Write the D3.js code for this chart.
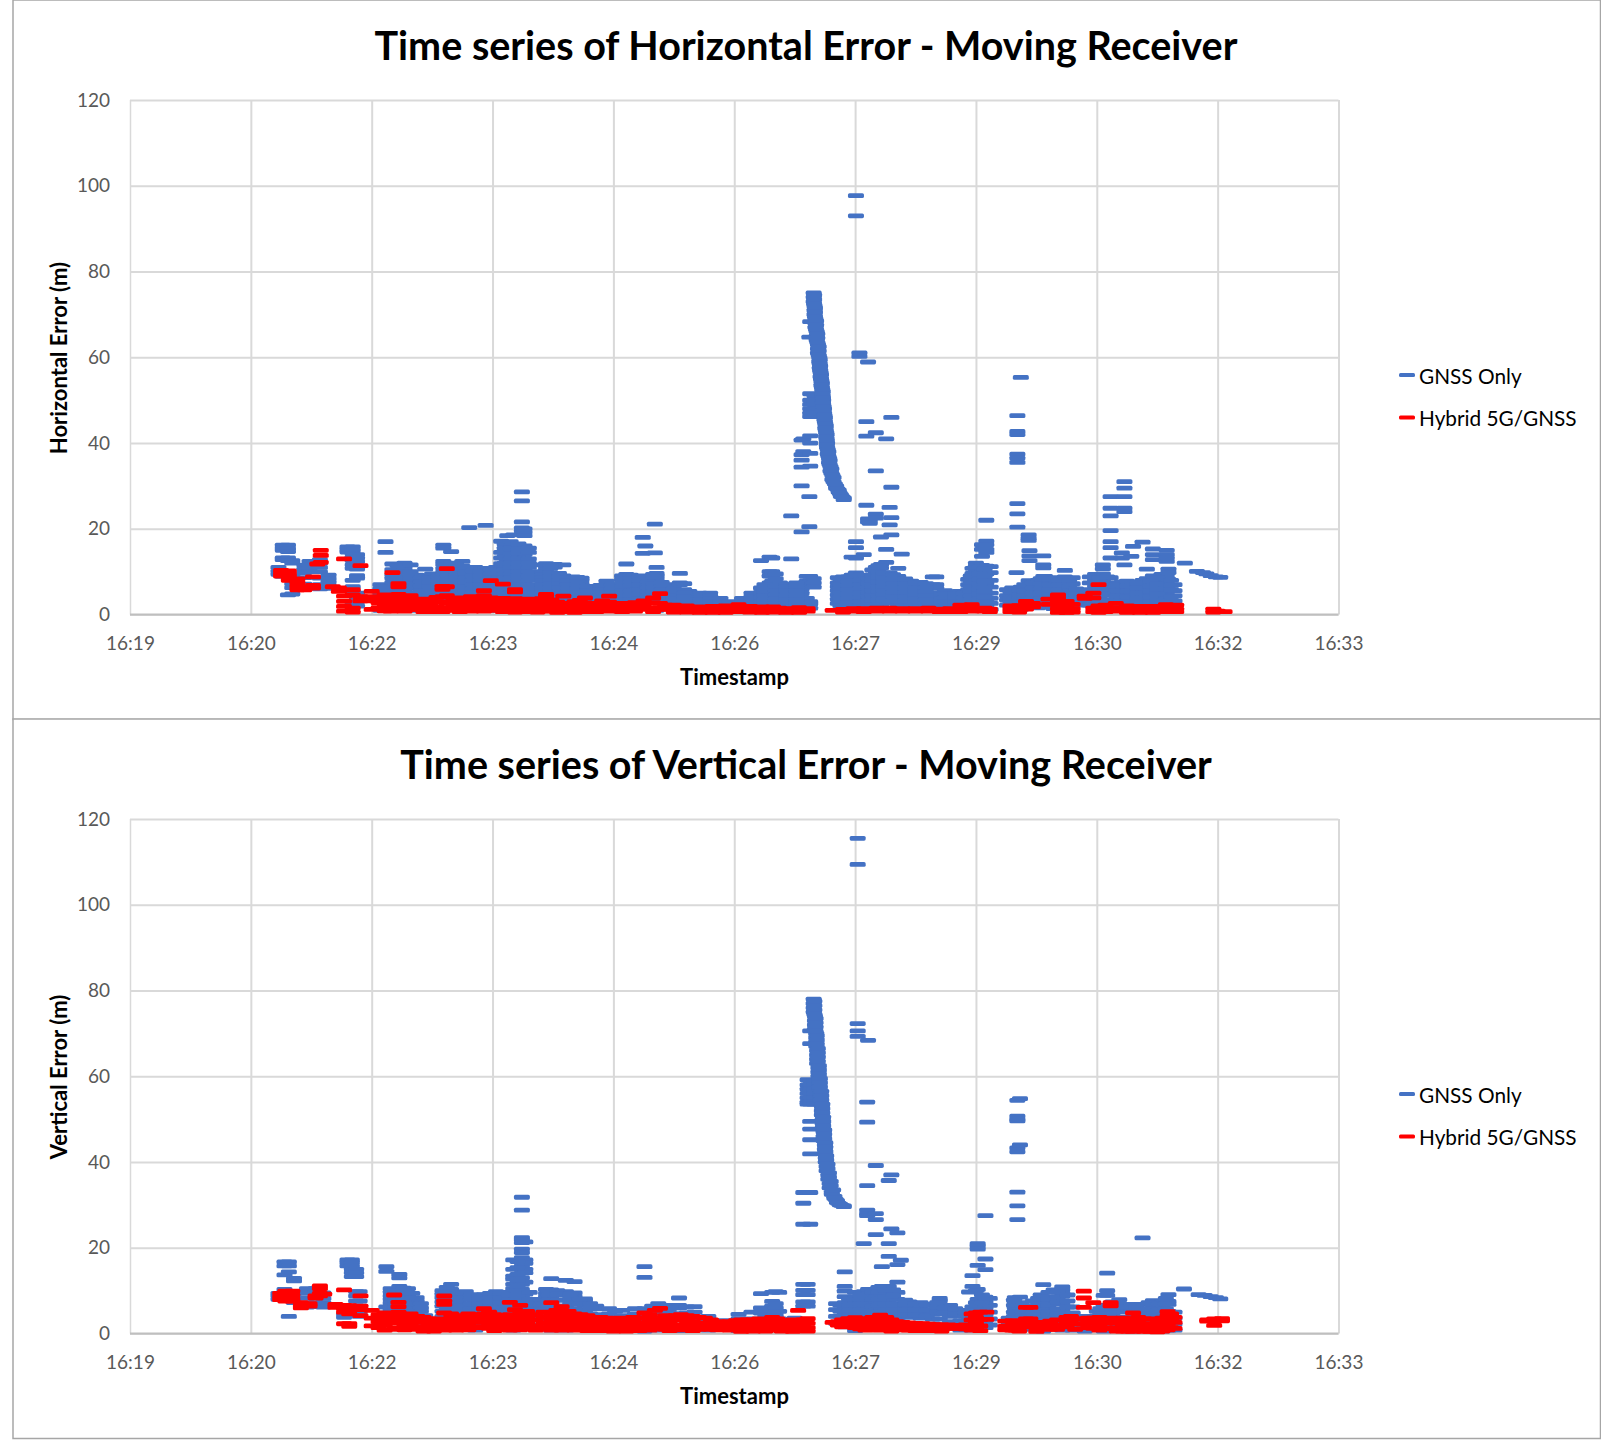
<!DOCTYPE html>
<html><head><meta charset="utf-8">
<script src="https://cdnjs.cloudflare.com/ajax/libs/d3/7.8.5/d3.min.js"></script>
<style>html,body{margin:0;padding:0;background:#fff}svg{display:block}text{font-family:Lato,sans-serif}</style>
</head><body><div id="c"></div>
<script>
const tickTimes=[19,20.4,21.8,23.2,24.6,26,27.4,28.8,30.2,31.6,33];
const tickLabels=["16:19","16:20","16:22","16:23","16:24","16:26","16:27","16:29","16:30","16:32","16:33"];
const errorTicks=[0,20,40,60,80,100,120];
const seriesNames=["GNSS Only","Hybrid 5G/GNSS"];
const seriesColors=["#4472c4","#ff0000"];

// Each entry: [minutes after 16:00, [error values in metres at that time]]
const horizontalGnss=[
[20.72,[11,10.1,9.4]],[20.77,[16.2,15.6,15,13.2,12.8,9.8,8.9]],[20.83,[16.2,15.4,14.7,13.2,12.6,10,4.6]],[20.88,[12.6,12,9,8.3,7.2,6.3,4.8]],
[21.02,[11.5,10.6,9.8,8.6,7.1,6.2]],[21.08,[12.4,11.6,10.8,10]],[21.2,[12.8,12,11,10,8.5,7,6]],[21.3,[9.2,8.4,7.6,6.8,6.1]],
[21.52,[15.8,15.2,14.6]],[21.58,[15.8,15,14.2,13.4,12.6,11.6,10.8,8,6.5,5.5,2.8]],[21.63,[14,13.2,12.4,11.4,10.6,9.1,8.5,5,4,3,2]],
[21.9,[7,6,5,4,3,1]],[21.96,[17,14.5]],[22.04,[11.8,10.5,9.3,8.5,7.5,6.5,5.5,4.5,3.5,2.5]],[22.18,[12,11.2,10.5,9.5,8.7,7.8,6.8,5.7,4.5,3.5]],
[22.32,[9.2,8.2,7.2,6.2,5,4,3,1]],[22.42,[10.6,9,7.9,6.8,5.7,4.6,3.6,1]],[22.5,[9.5,8,7,6,5,4,3]],
[22.63,[16.2,15.5,12.4,11.7,10.8,10,9.4,8.5,7.5,6.5,5.5,4.5,3.5]],[22.72,[14.7,12,10.5,8,7,6,5,4,3]],
[22.85,[12.4,11.3,10.5,9.8,9,8,7,6,5,4,3,1]],[22.93,[20.3,10.8,9.6,8.4,7.2,6,4.9,3.8,2.6]],[23,[11,10.5,9.5,8.5,7.5,6.5,5.5,4.5,3.5,2.5]],
[23.12,[20.8,10.8,9.8,8.8,7.6,6.6,5.6,4.4,3.2]],[23.24,[11,10,9,8,7,6,5,4,3,1]],[23.3,[17.1,14.5,13.2,11.9,10.6,9.4,8.2,7,5.8,4.6,3.4]],
[23.37,[18.4,16,15,14,13,12.5,11.7,11,10,9,8,7,6,5,4,3]],[23.44,[18.6,16,14.7,13.5,12.3,11.4,10.6,9,8,7,6.5,5.5,4.5,3.5]],
[23.54,[28.6,26.5,21.6,20.2,19.5,18.7,15.7,15,14,13.6,12.4,11.2,10.2,8.8,7.8,6.6,5.4,4.2]],[23.57,[20,19.2,18.4,16,15,14,12.6,11.4,10.6,8.5,7.5,6.5,5.5,4.5,3.5]],
[23.82,[11.9,11.3,10.6,9.5,8.9,8.2,7.4,6.5,5.7,4.8,3.8,1]],[23.92,[11.7,11.1,9.2,8.5,7.7,6.9,6.1,5.2,4.2,3.1]],[24.02,[11.6,9,8.4,7.6,6.8,5.7,4.8,3.8,1]],[24.13,[8.8,8,7.2,6.4,5.5,4.5,3.5,2.5]],
[24.23,[8.5,8,7.2,6.8,5.8,4.8,3.8,2.8]],[24.38,[6,5.2,4.4,3.6,2.6,1]],[24.52,[7.8,6.2,5.5,4.5,3.5,2.5]],[24.65,[6.4,5.4,4.6,3.6,2.8]],
[24.75,[11.8,9.4,8.8,8,7.4,6.5,6,5,4,3,1]],[24.84,[8.2,7.2,6,5,3.8,2.8]],[24.94,[18,14.3,6.4,5.3,4.2,3.1]],[24.97,[16]],[25.02,[8.8,8,7.2,6.5,5.8,5,4,3]],[25.08,[21.1,14.4]],
[25.1,[11,9.6,9,8.4,6.5,6,5,4,3,1]],[25.22,[7,6.2,5.4,4.6,3.8,3,2.2]],[25.37,[9.6,7.4,7,5,4.5,3.8,3,1]],[25.48,[5.4,4.8,4,3.2,2.4]],[25.6,[5,4.5,4,3.5,2.5]],[25.72,[5,4.3,3.6,3,2.2]],
[25.84,[3.8,3,2.5,2]],[25.95,[3,2.4,1.8]],[26.09,[3.8,3,2.2,1.2]],[26.2,[5,4.2,3.4,2.6,1.5]],
[26.31,[12.6,6.2,5.2,4,3,2,0.8]],[26.41,[13.4,10,9,7.4,6.5,5.6,4.6,3.6,2.6,1.5]],[26.44,[13.2,10,9,7.8,6.8,6,5,4,3,2]],[26.53,[7.4,6.2,5,4,3,2]],
[26.66,[23,13,7,6.2,5,3.9,3,2,1]],[26.78,[40.7,37.3,36,34.4,30,19.3,6,5,4,3,2.2,1]],[26.8,[41,38]],[26.84,[8.9,7.8,7,3.8,3,2.2,1]],[26.87,[64.7,27.5,20.5]],
[26.88,[68.3,51.5,50,49,48,47,46.2,41.7,40,37.6,34.6,8.9,7.8,7,3,2.5,1.5]],[26.93,[51,50,49,48,47,46.2]],
[26.92,[75,74,73]],[26.93,[72,71,70]],[26.94,[69,68,67]],[26.955,[66,65,64]],[26.97,[63,62,61]],[26.985,[60,59]],[26.995,[58,57]],[27.005,[56,55]],[27.015,[54,53]],[27.025,[52,51]],[27.03,[50,49]],[27.04,[48,47]],[27.05,[46,45]],[27.06,[44,43]],[27.07,[42,41]],[27.075,[40,39]],[27.09,[38,37]],[27.105,[36,35]],[27.125,[34,33]],[27.15,[32,31]],[27.18,[30,29.5]],[27.21,[29,28.6]],[27.235,[28,27.6]],[27.268,[27.2,26.8]],
[27.2,[8.6,7.4,6.5,5.6,4.6,3.6,2.6]],[27.26,[8.8,7.4,6.2,5.2,4.2,3.2,2.2,1.2]],[27.36,[13.4,9.2,8.2,7,6,5,4,3,2]],[27.41,[97.7,93,17,15.6,13.2,9.7,8.5,7.4,6.4,5.4,4.4,3.4,2.4]],[27.45,[61,60.2]],
[27.5,[14,9,8,7,6,5,4,3,2,1]],[27.53,[45,41.6,25.5,8.9,7.8,6.6,5.5,4.5,3.5]],[27.55,[58.9,22.3,21.6]],[27.57,[22,21.3,8.5,7,6,5,4,3]],
[27.64,[33.5,23.4,22.5,42.4,11,9.6,8.4,7,6,4.8,3.8,2.6]],[27.7,[18.1,11.7,10.9,9.5,8.4,7.2,6.2,5.2,4.2,3.2,2.2]],[27.76,[15.2,12.2,41,9.2,8,6.9,5.8,4.8,3.8,2.8]],[27.8,[25,20.9,9.7,8.8,7.6,6.6,5.6,4.6,3.6,2.6]],
[27.82,[46,29.7,18.6,22.6]],[27.9,[10.8,8.9,8,7,6,5,4,3,2]],[27.94,[14.1,7.6,6.6,5.5,4.5,3.5,2.4]],[28.05,[7.8,7,5.8,5,4.1,3.2,2.3]],[28.16,[7.5,6.6,5.7,4.8,3.9,3,2]],[28.3,[8.8,7,6.2,5,4.2,3.4,2.5]],[28.34,[8.8,7,6.2,5,4,3,2]],
[28.38,[4.6,3.6,2.7,1.8]],[28.5,[4.2,3.4,2.6,1.8]],[28.61,[5.4,4.4,3.5,2.6,1.7]],[28.71,[8.2,7,5.8,4.8,3.8,2.8]],[28.76,[10.8,9.6,8.5,7.2,6,5,4,3]],
[28.8,[12,11.3,10,9,7.8,6.6,5.4,4.2,3.2]],[28.87,[16.3,15.2,13.6,11.5,10,8.6,7,5.6,4.4,3.4,2.2]],[28.92,[22,17.1,16.3,15.2,14.5,11.3,9.5,7.4,5,3.5,2,1]],[28.97,[11.2,9.8,8,6.4,5,3.8,2.6,1.2]],
[29.16,[5.8,4.4,3.4,2.2]],[29.22,[6.2,5,4,3,1.5]],[29.27,[9.8,5.8,4.3,3,1.2]],[29.28,[46.4,42.7,42,37.4,36.5,35.5,25.9,23.5,20.4]],
[29.32,[55.3,6.4,5.2,3.4,1.2]],[29.41,[18.6,17.8,17.3,7.9,6,4.6,3.4,2.2]],[29.42,[14.9,13.7,12.6,6.5,5,3.6]],[29.52,[8,6.9,5.8,4.8,3.8,2.8,1.6]],[29.58,[13.7,11.6,10.9,8.9,7.8,6.6,5.4,4.2,3,1.8]],[29.6,[8.9,7.8,6,5,3.9,2.8]],
[29.7,[8.6,7.4,6.3,5.2,4,3,1.4]],[29.83,[10.3,8.8,7.8,6.6,5.4,4.2,3,1.4]],[29.92,[8.6,7.2,6,4.8,3.4]],[30,[5.4,4.4,3.2,2.2]],
[30.18,[9.4,8.2,6.6,5.2,4,2.8,1.4]],[30.27,[11.6,10.7,9.5,8.2,7,5.8,4.6,3.4,2.2,1]],[30.36,[27.5,24.8,23,19.6,17,15.6,13.2,8.6,7.4,6,4.8,3.4,2]],[30.49,[14.4,13.2,7.6,6.2,5,3.8,2.6,1.2]],[30.52,[31,29.5,27.5,24.8,24,11.6]],
[30.6,[13.6,7.4,6,4.8,3.6,2.2,0.8]],[30.62,[15.9]],[30.73,[16.9,8,6.8,5.6,4.4,3.2,1.8]],[30.78,[10.6,8.4,7.2,6,4.8,3.4,2]],[30.85,[15.3,14,12.8,9,7.8,6.4,5,3.8,2.4,1]],
[30.95,[9.4,8,6.6,5.4,4.2,2.8,1.4]],[31.01,[15,14,13.2,12.4,8.9,7.4,6.2,5,3.6,2.2,1]],[31.03,[10.6,9.8,8.2,6.8,5.6]],[31.1,[7,5.6,4.4,3.2,1.8]],[31.22,[12]],
[31.36,[10.1]],[31.43,[9.8]],[31.47,[9.5]],[31.52,[9.1]],[31.58,[8.8]],[31.63,[8.7]],
[21.95,[6.5,5.5,4.5,3.5,2.5,1.5]],[22.1,[11.4,10,9,8.2,7.2,6.2,5.1,4,3]],[22.25,[11.6,10,9,8.2,7.2,6.2,5,4]],[22.37,[8.7,7.7,6.7,5.6,4.5,3.5]],[22.47,[8.6,7.5,6.5,5.5,4.5,3.5]],[22.57,[8.9,8,7,6,5,4]],[22.68,[11,10.2,9,8,7,6,5,4,3]],[22.78,[11.6,10,9,8.5,7.5,6.5,5.5,4.5,3.5]],[22.89,[11,10,9.4,8.5,7.5,6.5,5.5,4.5,3.5]],[22.97,[10.2,9,8,7,6,5,4,3]],[23.06,[10,9,8,7,6,5,4,3]],[23.18,[10.5,9.5,8.5,7.5,6.5,5.5,4.5,3.5]],[23.27,[10.5,9.5,8.5,7.5,6.5,5.5,4.5,3.5]],[23.34,[16.5,15.5,14.5,13.5,12,10.5,9.5,8.5,7.5,6.5,5.5,4.5,3.5]],[23.41,[17,15.5,14.2,13,12,11,9.5,8.5,7.5,6,5,4,3]],[23.5,[16.5,15.2,14.4,13,12,11,10,9,8,7,6,5,4,3]],[23.62,[15.5,14.5,13,12,11,10,9,8,7,6,5,4]],
[23.78,[11.6,10,9.2,8.5,7.8,7,6.1,5.2,4.3,3.3]],[23.87,[11.5,10.8,9.8,8.8,8,7.1,6.2,5.2,4.2,3.2]],[23.97,[9.6,8.8,8,7.2,6.3,5.2,4.3,3.4]],[24.07,[8.6,7.8,7,6.2,5.2,4.3,3.3]],[24.18,[8.7,7.6,6.9,6,5,4,3]],[24.3,[6.6,5.6,4.6,3.6,2.6]],[24.45,[6.8,5.8,5,4,3]],[24.58,[6.9,6,5,4,3]],[24.7,[9,8.2,7.4,6.6,5.6,4.6,3.4]],[24.8,[9.2,8.4,7.6,6.8,5.5,4.5,3.5]],[24.9,[9,8,7,5.8,4.7,3.6]],[25,[7.6,6.8,6.2,5.4,4.5,3.5]],[25.06,[9.4,8.8,7.2,6.2,5.4,4.4,3.4]],[25.16,[7.5,6.6,5.7,4.8,3.8,3]],[25.3,[6,5.2,4.4,3.6,2.8]],[25.42,[7.2,5.8,5,4.2,3.4]],
[26.35,[7,6,5.4,4.4,3.4,2.4]],[26.48,[9.5,8.4,6.6,5.6,4.6,3.6,2.6]],[26.6,[7,6.4,5.6,4.5,3.5,2.5]],[26.72,[7.4,6.6,5.6,4.5,3.5,2.5]],[26.92,[8.4,7.4,6.4]],
[26.925,[74.5,73.5,72.5]],[26.935,[71.5,70.5,69.5]],[26.948,[68.5,67.5,66.5]],[26.962,[65.5,64.5,63.5]],[26.978,[62.5,61.5,60.5]],[26.99,[59.5,58.5,57.5]],[27,[56.5,55.5]],[27.01,[54.5,53.5]],[27.02,[52.5,51.5]],[27.028,[50.5,49.5]],[27.035,[48.5,47.5]],[27.045,[46.5,45.5]],[27.055,[44.5,43.5]],[27.065,[42.5,41.5]],[27.072,[40.5,39.5]],[27.083,[38.5,37.5]],[27.098,[36.5,35.5]],[27.115,[34.5,33.5]],[27.137,[32.5,31.5]],[27.165,[30.5]],[27.195,[29.3]],[27.222,[28.3]],[27.25,[27.5]],
[27.23,[8.2,7,6,5.1,4.1,3.1,2.1]],[27.32,[8.8,7.8,6.8,5.8,4.8,3.8,2.8]],[27.46,[9.2,8,7,6,5,4,3,2]],[27.55,[8.4,7.2,6.2,5.2,4.2,3.2,2.2]],[27.6,[10.4,9.2,8,6.6,5.6,4.4,3.4,2.2]],[27.67,[11.4,10,8.8,7.6,6.5,5.4,4.4,3.4]],[27.73,[9.8,8.6,7.5,6.6,5.6,4.6,3.6]],[27.84,[9.3,8.3,7.2,6.2,5.2,4.2,3.2]],[27.98,[8.3,7.2,6.2,5.2,4.2,3.2]],[28.1,[7.4,6.2,5.4,4.5,3.6,2.7]],[28.22,[7.2,6.2,5.3,4.4,3.5,2.6]],[28.44,[5.6,4.9,4,3,2]],[28.56,[4.8,3.9,3,2.1]],[28.66,[5,4,3.1,2.2]],[28.74,[9,7.6,6.4,5.4,4.4,3.4]],[28.84,[11,9.5,8.2,7.2,6,4.8,3.6]],[28.9,[10.6,9,7.8,6.2,5.4,4.2,3]],
[29.2,[5.2,3.8,2.8]],[29.3,[5.8,4.6,3.8,2.6]],[29.36,[7,5.6,4.4,3]],[29.46,[7.4,6.2,5,4,3]],[29.55,[8.4,7.2,6,5,3.6,2.4]],[29.65,[8.2,7,5.8,4.6,3.4]],[29.76,[8,7,5.8,4.8,3.6,2.2]],[29.88,[8,6.6,5.4,4.2,3]],[29.96,[6,4.8,3.8,2.8]],
[30.12,[8.8,7.4,5.8,4.6,3.4,2.2]],[30.23,[8.6,7.6,6.4,5.2,4,2.8]],[30.32,[8.8,7.4,6,4.6,3.2,1.8]],[30.43,[7,5.6,4.3,3.2,2]],[30.55,[7.8,6.7,5.4,4.2,3,1.6]],[30.67,[7.4,6.2,5,3.8,2.6]],[30.82,[7.8,6.6,5.4,4.2,3]],[30.9,[8.6,7.2,6,4.8,3.2,1.8]],[31.06,[8,6.8,5.8,4.2,2.8]]
];
const horizontalHybrid=[
[20.75,[10.3,9.6,9]],[20.84,[10.2,9.5,8.8,8]],[20.94,[8.3,7.4,6.6,5.8]],[21.02,[6.3,5.8]],[21.12,[8.8,6.8,6.2]],[21.17,[11.8]],[21.21,[15,13.8,12.2]],[21.35,[6.5]],[21.42,[6.2,5.4]],
[21.48,[13,4.3,3.1,1.9,0.8]],[21.58,[5.8,4.6,1.5,0.6]],[21.67,[11.4,4.2,3.2]],[21.8,[5.4,4.2,3.2,1.2]],[21.95,[4.6,3.6,2.5,0.9]],[22.04,[9.8,4.4,3,1.2]],[22.11,[7.2,6.5,4.7,3.6,2.6,1]],
[22.25,[4.4,3.4,2.2,1.2]],[22.4,[3.6,2.8,1.6,0.7]],[22.55,[4,2.9,1.8,0.7]],[22.62,[6.6,5.9,4.2,3,1.6,0.7]],[22.67,[10.7,6.5,4.4,2.6,1.2]],[22.82,[3.9,2.7,1.4,0.7]],[22.95,[4.2,3,1.9,0.8]],
[23.1,[5.6,4.4,3.1,1.7,0.8]],[23.18,[7.9,3.9,2.4,1.2]],[23.32,[7.1,3.8,2.6,1.5,0.7]],[23.46,[5.8,5.3,3.7,2.6,1.4,0.6]],[23.6,[3.6,2.6,1.6,0.7]],[23.72,[3.2,2.4,1.4,0.6]],[23.82,[4.7,4.3,2.8,1.8,0.9]],
[23.95,[2.9,2,1.2,0.5]],[24.02,[4.3,2.6,1.5,0.7]],[24.15,[3,2,1.1,0.5]],[24.27,[3.9,2.7,1.7,0.7]],[24.4,[2.6,1.6,0.7]],[24.55,[4.3,2.9,1.7,0.8]],[24.7,[2.6,1.7,0.7]],[24.85,[2.8,1.8,0.8]],
[25.06,[3.9,2.8,1.6,0.7]],[25.14,[4.9,2.6,1.3]],[25.3,[2.2,1.3,0.6]],[25.45,[2,1.2,0.6]],[25.6,[1.8,1.1,0.5]],[25.75,[1.9,1,0.5]],[25.9,[2,1.2,0.5]],[26.05,[2.3,1.4,0.7]],[26.18,[1.9,1.2,0.6]],
[26.32,[1.8,1,0.5]],[26.45,[1.8,1.1,0.6]],[26.6,[1.4,0.9,0.5]],[26.75,[1.6,1,0.5]],[26.85,[1.4,0.8]],[27.14,[1]],[27.26,[1.2,0.6]],[27.38,[1.4,0.8]],[27.5,[1.4,0.7]],[27.65,[1.5,0.8]],[27.8,[1.5,0.8]],
[27.95,[1.4,0.8]],[28.1,[1.4,0.8]],[28.25,[1.5,0.8]],[28.38,[1.3,0.7]],[28.5,[1.4,0.7]],[28.62,[2.2,1.2,0.7]],[28.75,[2.3,1.5,0.8]],[28.9,[1.5,0.8]],[28.96,[1.3,0.7]],[29.2,[2,1.4,0.7]],[29.3,[2.1,1.2,0.6]],
[29.38,[3.1,2.3,1.3]],[29.46,[2.6,1.8]],[29.64,[3.6,2.4]],[29.75,[4.6,3.9,3.1,2.3,1.4,0.5]],[29.85,[3.1,2.2,1.2,0.5]],[29.92,[2.4,1.4,0.6]],[30.06,[4.3,3.8]],[30.16,[5,3.9,1.5,0.7]],[30.22,[7,2,1,0.5]],
[30.3,[2.2,1.4,0.7]],[30.42,[2.6,1.6,0.8]],[30.55,[2,1.2,0.5]],[30.7,[1.9,1,0.5]],[30.85,[1.9,1.1,0.5]],[31,[2.3,1.2,0.7]],[31.12,[2.2,1.3,0.7]],[31.55,[1.3,0.6]],[31.6,[0.8]],[31.68,[0.7]],
[21.88,[3.8,2.8,1.6]],[22.02,[3.2,2,0.8]],[22.18,[3.9,2.9,1.7,0.8]],[22.33,[3.4,2.4,1.2]],[22.48,[3.3,2.3,1.2]],[22.75,[3.4,2.2,1]],[22.88,[3.5,2.2,1.1]],[23.03,[3.6,2.5,1.4]],[23.14,[3.4,2]],[23.25,[3.4,2.1,1]],[23.39,[3.3,2,1.1]],[23.53,[3.1,2.1,1.1]],[23.66,[3,1.9,1]],[23.77,[3.7,2.3,1.2]],[23.88,[3.4,2.4,1.4,0.8]],[24.08,[2.5,1.8,1]],[24.21,[3.3,2.3,1.2]],[24.33,[2.2,1.2]],[24.47,[3.2,2.1,1.2]],[24.62,[2.2,1.2]],[24.78,[2.3,1.3]],[24.95,[3.2,2.3,1.2]],[25.2,[2.2,1.2]],[25.38,[1.7,1]],[25.52,[1.5,0.9]],[25.67,[1.4]],[26.12,[1.7,1]],[26.25,[1.5,1]],[26.38,[1.4,0.8]],[26.52,[1.5,0.9]],[26.68,[1.3,0.8]]
];
const verticalGnss=[
[20.72,[9.4,8.8,8]],[20.79,[16.7,15.8,13.7,10.3,9,8]],[20.84,[16.7,15.8,14.4,4]],[20.9,[12.9,12.3,9.5,8.4,7.2]],[21.05,[10.5,9.5,8.4,7.2,6.2]],[21.15,[10.5,9.6,8.4,7.2,6.3]],[21.24,[9.5,8.2,7.2,6.2]],
[21.48,[4.5,3.8]],[21.52,[17.2,16.6,15.8]],[21.57,[17.2,16.6,15.8,15,14.2,13.3,5.4,4.4]],[21.62,[15,14.2,13.3,9.8,8.8,7.6,6.4,5.2]],[21.66,[9.8,7.6,6.4,5,4]],
[21.97,[15.6,14.5,6.2,4.8]],[22.02,[10.5,9.7,8.8,8,7.2,6.4,5.5,4.5,3.5]],[22.12,[13.8,13,11,9.9,8.9,8,7,6,4.8,3.6]],[22.22,[10.5,9,7.6,6.4,5,3.6,2]],[22.32,[8.4,7.6,6.4,5.6,4.8,3.2,1.6]],[22.42,[4.2,3,1.2,0.8]],
[22.52,[2.6,1.4]],[22.62,[10,9.2,8.4,7.4,6.4,5.2,4,2.8,1.4]],[22.72,[11.5,10.3,9.1,8.4,7.2,6,4.6,3.4,2,1]],[22.89,[9.8,9,8,6.4,5.2,3.6,2.4,1]],[23,[8.4,7.4,6.2,5,3.6,2.2,0.8]],[23.1,[9.1,8,7,5.8,4.4,3,1.6]],
[23.24,[9.8,8.8,7.6,6.4,5,3.6,2.4,1]],[23.34,[9.6,8.4,7,5.6,4.2,2.8,1.4]],[23.44,[17.2,15,13.4,12.7,11.5,10.5,9.6,8.4,7,5.4,4,2.4,0.8]],[23.54,[31.8,28.8,22.4,21.9,21.2,19.7,18.9,17.7,15.8,14.1,13,11.5,10.3,8.8,7.6,6,4.6,3,1.4]],
[23.58,[21.4,17.2,16.4,15,14.2,12,9.2,7.2]],[23.7,[7.6,6.2,4.8,3.4,2]],[23.82,[10.3,9.4,8.6,7.2,6,4.6,3.2,1.6]],[23.88,[12.8,10.2,9.4,8.4,7,5.6,4,2.6,0.8]],[24.05,[12.4,9.8,9,7.8,6.4,5,3.6,2.2,0.8]],[24.15,[12.1,9.5,8.6,7.2,5.8,4.6,3,1.4]],
[24.27,[8.1,7.6,6.6,5.4,4,2.6,1]],[24.4,[6.4,5.8,4.4,3.2,1.8,0.8]],[24.55,[5.8,4.6,3.4,2,0.8]],[24.7,[5.4,4.2,3,1.8,0.8]],[24.85,[5.8,4.6,3,1.6,0.7]],[24.96,[15.6,13.1,5.8,4.4,3,1.4,0.6]],[25.12,[7,6,4.8,3.2,1.8,0.8]],
[25.24,[6.6,5.2,3.8,2.4,1]],[25.36,[8.3,6.6,6,4.6,3.2,1.6,0.7]],[25.54,[6.3,5,3.6,2.4,1]],[25.7,[4,3,1.8,0.8]],[25.88,[3,2,1]],[26.05,[4.5,3.4,2,0.7]],[26.2,[5,3.4,2.2,0.7]],
[26.31,[9.3,6,4.8,3.2,1.8,0.7]],[26.44,[9.6,7.5,6.4,5.6,4,2.4,1]],[26.52,[9.6,5.2,3.4,2]],[26.7,[3.6,2.4,1]],[26.8,[32.9,30.4,25.5,11.5,10.1,9.1,7.4,6.4,3,1.2]],
[26.85,[11.5,10.1,9.1,7.4,6.4,59.2,58,57,56,55,54,53.5]],[26.88,[70.6,67.6,49.5,47.7,45.2,41.9,32.9,25.5,59,58,57,56,55,54,53.5]],[26.93,[59,58,57,56,55,54,53.5]],
[26.92,[78,77,76,75]],[26.935,[74,73,72,71]],[26.95,[70,69,68,67]],[26.96,[66,65,64,63]],[26.975,[62,61,60]],[26.985,[59,58,57]],[27,[56,55,54]],[27.015,[53,52,51]],[27.025,[50,49,48]],[27.035,[47,46,45]],[27.05,[44,43,42]],[27.06,[41,40]],[27.07,[39,38]],[27.09,[37,36]],[27.105,[35,34]],[27.13,[33,32.5]],[27.16,[32,31.6]],[27.19,[31,30.6]],[27.225,[30.2,30]],[27.268,[29.8,29.6]],
[27.18,[7,5.6,4,2.4]],[27.28,[14.4,11,9.9,8.6,7.2,6,4.6,3.2,1.6]],[27.4,[9.6,8.5,7.5,6.4,5,3.6,2.2,0.7]],[27.43,[115.5,109.4,72.3,70.6,69.3]],[27.5,[21,9.8,8.6,7.2,6,4.6,3.2,2]],[27.54,[54,49.3,34.5,28.8,28,27.5]],[27.55,[68.4,10.3,9,7.6,6,4.4,3]],
[27.64,[39.2,26.6,28,23.1,10.3,8.6,7.2,5.6,4,2.4]],[27.71,[15.6,11,9.2,7.6,6,4.4,3,1.4]],[27.79,[35.7,21,18,11,9.4,7.8,6.2,4.6,3,1.4]],[27.82,[37,24.4]],[27.89,[23.5,16.1,12,9.6,8,6.4,5,3.4,1.8]],[27.93,[17.1]],[28.03,[7.4,6.2,5,3.8,2.4,1]],[28.16,[7.2,6,4.8,3.6,2.2,1]],
[28.3,[6.8,5.6,4.6,3.4,2.2,0.8]],[28.38,[8.2,7.6,6,4.6,3.4,2,0.8]],[28.5,[6.6,5.2,4,2.8,1.6]],[28.62,[5.4,4.2,3,1.8,0.8]],[28.72,[9.7,3.8,2.6,1.4]],[28.76,[13.5,11,6.2,5,3.6,2,0.8]],[28.82,[21,20.4,19.7,15.9,10.3,8,6.4,4.8,3.2,1.6]],
[28.91,[27.5,17.4,14.9,8.5,7.4,6,4.4,3,1.4]],[28.96,[8.2,6.6,5,3.4,2]],[29.18,[3.6,2.4,1]],[29.25,[8.4,7.2,6,3.4,1.4]],[29.28,[54.4,50.7,50,49.6,42.4,43.3,33,29.8,26.6]],[29.31,[54.8,44,8.5,7.2,6,4.6,3,1.2]],[29.4,[5.2,3.8,2.6,1]],
[29.52,[8.2,7,5.6,4.2,2.8,1.2]],[29.58,[11.4,8.6,7.6,6.4,5,3.4,1.8,0.6]],[29.7,[10.2,8.4,7,5.6,4.2,2.8,1.2]],[29.8,[10.9,10.3,9.5,8.7,7,5.4,3.8,2.2,0.8]],[29.92,[6.2,4.8,3.4,2,0.8]],[30.06,[4,3,1.6,0.6]],[30.2,[5.2,4,2.6,1]],
[30.28,[8.9,6.4,5,3.6,2.2,0.6]],[30.32,[14.1,10,8.9,6.6,5,3.6,2]],[30.46,[7.9,6.8,5.2,3.8,2.4,0.8]],[30.6,[6.8,5.2,3.8,2.4,0.6]],[30.73,[22.3,6.8,5.4,3.8,2.4,1]],[30.85,[7.7,6.6,5,3.6,2]],
[30.96,[7.5,6.4,4.8,3.4,1.8,0.6]],[31.03,[9.1,7.5,6.8,5.2,3.8,2.2,0.8]],[31.1,[5,3.6,2.2,0.8]],[31.21,[10.4]],[31.38,[9.1]],[31.45,[8.9]],[31.52,[8.6]],[31.58,[8.4]],[31.63,[8.1]],
[22.07,[10,9.2,8.4,7.6,6.8,6,5]],[22.17,[10.6,9.4,8.4,7.5,6.5,5.5,4.4]],[22.27,[9.4,8.2,7,5.8,4.4]],[22.37,[7,6,5.2,4]],[22.67,[10.8,9.7,8.8,7.8,6.8,5.8,4.6]],[22.8,[9.4,8.4,7.4,6.4,5.4,4.4]],[22.95,[9,8,7,5.8,4.6]],[23.05,[9,8,6.8,5.6,4.4]],[23.17,[9.4,8.4,7.4,6.2,5.2]],[23.29,[9.4,8.4,7.2,6,5]],[23.39,[9,7.8,6.4,5.2]],[23.49,[16.8,15.4,13.8,12.4,11,10,9,8,6.8,5.4]],[23.63,[9.6,8,6.6,5.4]],[23.76,[8,6.8,5.6]],[23.85,[9.8,9,7.8,6.6,5.2]],[23.95,[10,9.2,7.8,6.4,5]],[24.1,[9.2,8.2,7,5.4]],[24.21,[8,6.8,5.4]],[24.33,[7,6,4.6]],[24.62,[5.2]],[25.05,[6.4,5.2]],[25.3,[6,4.6]],[25.45,[6.2,4.8]],[26.36,[5.4,4.2]],[26.48,[9.8,7,6,5,4.2]],
[26.928,[77.5,76.5,75.5,74.5]],[26.942,[73.5,72.5,71.5,70.5]],[26.955,[69.5,68.5,67.5]],[26.968,[66.5,65.5,64.5,63.5]],[26.98,[62.5,61.5,60.5]],[26.992,[59.5,58.5,57.5]],[27.008,[56.5,55.5,54.5]],[27.02,[53.5,52.5,51.5]],[27.03,[50.5,49.5,48.5]],[27.042,[47.5,46.5,45.5]],[27.055,[44.5,43.5,42.5]],[27.065,[41.5,40.5]],[27.08,[39.5,38.5]],[27.097,[37.5,36.5]],[27.117,[35.5,34.5]],[27.145,[33.5]],[27.175,[31.3]],[27.205,[30.4]],[27.245,[29.9]],
[27.23,[6.6,5.2,4]],[27.33,[8,6.6,5.4,4.2]],[27.46,[9,8,7,5.6,4.2]],[27.6,[9.6,8,6.4,4.8]],[27.67,[10.8,9.6,8,6.6,5]],[27.75,[10.2,8.6,7,5.4]],[27.84,[10.2,8.8,7,5.6,4]],[27.98,[7.8,6.8,5.6,4.4]],[28.1,[7,5.6,4.4]],[28.23,[6.6,5.4,4.2]],[28.35,[7.2,6.2,5]],[28.44,[6,4.8]],[28.56,[5.8,4.6]],[28.68,[5,4]],[28.8,[10,7.2,5.6,4]],[28.87,[9,7.2,5.6]],
[29.24,[7.8,6.6,5,4]],[29.34,[6.6,5.2,4]],[29.46,[7.6,6.2,4.8]],[29.55,[9,8,7,5.6,4.4]],[29.64,[9.6,8,6.6,5]],[29.75,[9.8,8.6,7.4,5.8,4.6]],[29.86,[9,7.6,6.2]],[30.24,[5.8,4.6]],[30.38,[7.4,6,4.6]],[30.52,[6.2,5,3.6]],[30.66,[6.2,4.6]],[30.8,[7.2,5.8,4.6]],[30.92,[7,5.6,4.2]],[31,[8.2,7,5.8,4.6]]
];
const verticalHybrid=[
[20.74,[9.4,8.6,7.9]],[20.8,[9.9,9.4,8.8,8.2,7.6]],[20.88,[9.9,9,8.2,7.6]],[20.98,[7.2,6.5,6]],[21.08,[7,6.4]],[21.15,[8.8,8.3]],[21.2,[11.1,10.5,9.4,8.8]],[21.25,[9.2]],[21.38,[6.8,6.1]],
[21.48,[10.2,6.6,5.8,5,2.3]],[21.54,[6.5,5.4,4.6,2.3,1.7]],[21.67,[8.8,6.4,5.6,4.2]],[21.8,[5.4,3.6,1.8]],[21.95,[4.8,3.4,2,0.8]],[22.06,[9,4.6,3.2,1.2]],[22.11,[7.3,6.3,5,3.8,2.4,1]],[22.25,[4.6,3.6,2.2,1]],[22.4,[3.8,2.6,1.4,0.6]],[22.52,[2.8,1.6,0.6]],
[22.64,[8.8,7.6,6.8,4.8,3.2,1.8,0.8]],[22.78,[4.2,3,1.6,0.8]],[22.92,[4.6,3.2,2,0.9]],[23.1,[5.8,4.6,3.2,1.6]],[23.22,[4.4,3,1.6,0.7]],[23.4,[7.3,4.4,3,1.6,0.8]],[23.52,[6.6,4.6,3.2,2,0.9]],[23.7,[4.4,3.2,1.8,0.8]],[23.88,[7.2,4.6,3.2,1.8,0.8]],
[24,[6.3,4.6,3.2,2,0.8]],[24.15,[4.6,3.2,1.8,0.8]],[24.3,[4.2,3,1.6,0.7]],[24.45,[3.8,2.8,1.5,0.7]],[24.6,[3.4,2.4,1.2,0.6]],[24.75,[3.4,2.4,1.4,0.6]],[24.9,[3.6,2.4,1.4,0.7]],[25.02,[4.4,3,1.8,0.8]],[25.14,[5.9,3.6,2.6,1.4]],
[25.25,[3.8,2.8,1.6,0.7]],[25.38,[4.4,3.2,1.8,0.9]],[25.52,[4,2.8,1.6,0.7]],[25.66,[3.6,2.4,1.4]],[25.8,[2.8,1.8,0.9]],[25.95,[2.8,1.8,0.8]],[26.08,[3.2,2.2,1.2,0.5]],[26.22,[3.2,2.4,1.4,0.6]],[26.36,[3,2.2,1.2,0.6]],[26.44,[3.8,2.8,1.6,0.8]],[26.55,[3,2,1,0.6]],[26.68,[3.2,2.2,1.2,0.5]],[26.74,[5.4,2.8,1.8,0.8]],[26.85,[3.5,2.4,1.4,0.6]],
[27.14,[2.6]],[27.25,[3.2,2.4,1.6]],[27.4,[3.7,3,2.2,1.4]],[27.52,[3.4,2.6,1.6,0.8]],[27.69,[4.3,3.4,2.6,1.6,0.8]],[27.82,[3.2,2.2,1.2,0.6]],[27.95,[2.6,1.8,0.9]],[28.1,[2.4,1.6,0.7]],[28.25,[2.2,1.4,0.7]],[28.4,[2,1.3,0.6]],[28.55,[1.9,1.2]],[28.68,[2,1.1]],[28.75,[4.6,3.2,1.8,0.8]],[28.85,[5,3.3,1.8,0.7]],
[28.92,[5,3.3]],[29.14,[2.9,1.7,0.9]],[29.22,[3,1.9,0.8]],[29.3,[2.6,1.6,0.6]],[29.38,[6.1,3.4,1.6]],[29.43,[6.1,3.4,2.2]],[29.5,[2.4,1.4,0.5]],[29.66,[2.9,2,1]],[29.74,[3.2,2,1]],[29.85,[3.8,2.8,1.6]],[29.9,[4,3.7,2.4]],[30.05,[9.9,8.3,6.1,3.4,2.2]],[30.16,[7.2,3.6,2.6,1.2]],
[30.3,[3.4,2.4,1.2]],[30.36,[7.2,6.5,3.6,2.6,1.2]],[30.5,[3.6,2.6,1.6,0.6]],[30.62,[4.8,3,2,1,0.5]],[30.75,[3.4,2.2,1.2,0.5]],[30.9,[3.2,2,1,0.4]],[31.02,[5.1,4.2,3.2,2,0.9]],[31.06,[4.6,3.4,1.4]],[31.48,[3.2,2.9]],[31.56,[3.4,1.9]],[31.65,[3.5,3]],
[21.88,[4.4,2.8,1.4]],[22.02,[4,2.6]],[22.18,[4.2,3,1.8,0.9]],[22.33,[4,3,1.6]],[22.46,[3.4,2.2,1.2]],[22.58,[3.4,2.2,1.2]],[22.72,[4.6,3.6,2.2,1.2]],[22.85,[3.6,2.4,1.2]],[23,[4,2.6,1.4]],[23.16,[5,3.8,2.4,1.2]],[23.3,[3.6,2.4,1.2]],[23.46,[5.6,3.8,2.4,1.2]],[23.6,[5.2,3.8,2.6,1.4]],[23.79,[5,3.8,2.4,1.2]],[23.94,[5.4,3.9,2.4,1.2]],[24.08,[5.2,3.9,2.6,1.4]],[24.22,[4.4,3.4,2.2,1.2]],[24.38,[3.8,2.4,1.2]],[24.52,[3.6,2.2,1]],[24.68,[3.6,2.8,1.8,1]],[24.83,[3.8,2.9,1.8,1]],[24.96,[4.8,3.6,2.4,1.2]],[25.08,[5.4,3.6,2.4,1.2]],[25.2,[4.2,3.2,2.2,1]],[25.32,[4.2,3.2,2,1]],[25.45,[4.2,3.4,2.2,1.2]],[25.59,[3.8,2.2,1]],[25.73,[3.2,2,1]],[25.88,[2.4,1.4]],[26.02,[3,2,1]],[26.15,[3.2,2.2,1]],[26.29,[3.4,2.6,1.8,0.9]],[26.5,[3.4,2.4,1.4]],[26.62,[2.8,1.8,0.9]],[26.8,[3.2,2.2,1.2]],
[27.2,[2.8,2]],[27.32,[3.5,2.6,1.8]],[27.46,[3.4,2.8,1.8,1.1]],[27.6,[3.8,3,2.2,1.2]],[27.76,[3.8,2.8,1.8,1]],[27.88,[2.8,2,1]],[28.02,[2.5,1.7,0.8]],[28.18,[2.3,1.5,0.8]],[28.32,[2.1,1.4,0.7]],[28.48,[2,1.2]],[28.62,[1.9,1.2]],[28.8,[4.8,3.8,2.4,1.2]],[29.26,[2.7,1.8,0.8]],[29.34,[2.8,1.8]],[29.58,[2.6,1.6]],[29.95,[3.4,2.2,1]],[30.1,[3.6,2.6,1.4]],[30.23,[3.8,2.8,1.8,0.8]],[30.43,[3.4,2.4,1.2,0.6]],[30.56,[3.4,2.4,1.4,0.6]],[30.68,[3.8,2.6,1.6,0.7]],[30.82,[3.4,2.2,1.2,0.5]],[30.96,[3.6,2.4,1.4,0.6]],[31.1,[3.8,2.6,1.2]]
];

const panels=[
 {title:"Time series of Horizontal Error - Moving Receiver",yLabel:"Horizontal Error (m)",series:[horizontalGnss,horizontalHybrid],offset:0},
 {title:"Time series of Vertical Error - Moving Receiver",yLabel:"Vertical Error (m)",series:[verticalGnss,verticalHybrid],offset:719}
];

const W=1601,H=1440;
const svg=d3.select("#c").append("svg").attr("width",W).attr("height",H);
const x=d3.scaleLinear().domain([19,33]).range([130,1338.5]);

panels.forEach((p,pi)=>{
 const g=svg.append("g").attr("transform",`translate(0,${p.offset})`);
 g.append("rect").attr("x",13).attr("y",0).attr("width",W-13.5).attr("height",719.5).attr("fill","#fff").attr("stroke","#a6a6a6").attr("stroke-width",1.5);
 g.append("text").attr("x",806).attr("y",44.5).attr("text-anchor","middle").attr("dominant-baseline","central").attr("font-size",39.5).attr("font-weight",700).attr("fill","#000").text(p.title);
 const y=d3.scaleLinear().domain([0,120]).range([614.6,100]);
 const gy=g.append("g").attr("transform","translate(130,0)").call(d3.axisLeft(y).tickValues(errorTicks).tickSize(-(1338.5-130)).tickPadding(20));
 gy.select(".domain").remove();
 gy.selectAll(".tick line").attr("stroke","#d9d9d9").attr("stroke-width",2);
 gy.selectAll(".tick text").attr("font-size",19).attr("fill","#595959").style("font-family","Lato");
 const gx=g.append("g").attr("transform","translate(0,614.6)").call(d3.axisBottom(x).tickValues(tickTimes).tickFormat((d,i)=>tickLabels[i]).tickSize(-(614.6-100)).tickPadding(21.5));
 gx.select(".domain").remove();
 gx.selectAll(".tick line").attr("stroke","#d9d9d9").attr("stroke-width",(d,i)=>i===0?1.5:2);
 gx.selectAll(".tick text").attr("font-size",19).attr("fill","#595959").style("font-family","Lato");
 g.append("line").attr("x1",130).attr("x2",1338.5).attr("y1",614.6).attr("y2",614.6).attr("stroke","#bfbfbf").attr("stroke-width",2);
 g.append("text").attr("x",734.5).attr("y",676).attr("text-anchor","middle").attr("dominant-baseline","central").attr("font-size",22).attr("font-weight",700).attr("fill","#000").text("Timestamp");
 g.append("text").attr("transform",`translate(58,${pi?358:358}) rotate(-90)`).attr("text-anchor","middle").attr("dominant-baseline","central").attr("font-size",22).attr("font-weight",700).attr("fill","#000").text(p.yLabel);
 p.series.forEach((cols,si)=>{
  const pts=cols.flatMap(([t,vs])=>vs.map(v=>({t,v})));
  g.append("g").selectAll("rect").data(pts).join("rect")
   .attr("x",d=>x(d.t)-8).attr("y",d=>y(d.v)-2.4).attr("width",16).attr("height",4.8).attr("rx",1.6)
   .attr("fill",seriesColors[si]);
  const ly=[375,417.5][si];
  g.append("rect").attr("x",1399).attr("y",ly-2).attr("width",16).attr("height",4).attr("rx",1.5).attr("fill",seriesColors[si]);
  g.append("text").attr("x",1419).attr("y",ly).attr("dominant-baseline","central").attr("font-size",20.8).attr("fill","#000").text(seriesNames[si]);
 });
});
</script></body></html>
